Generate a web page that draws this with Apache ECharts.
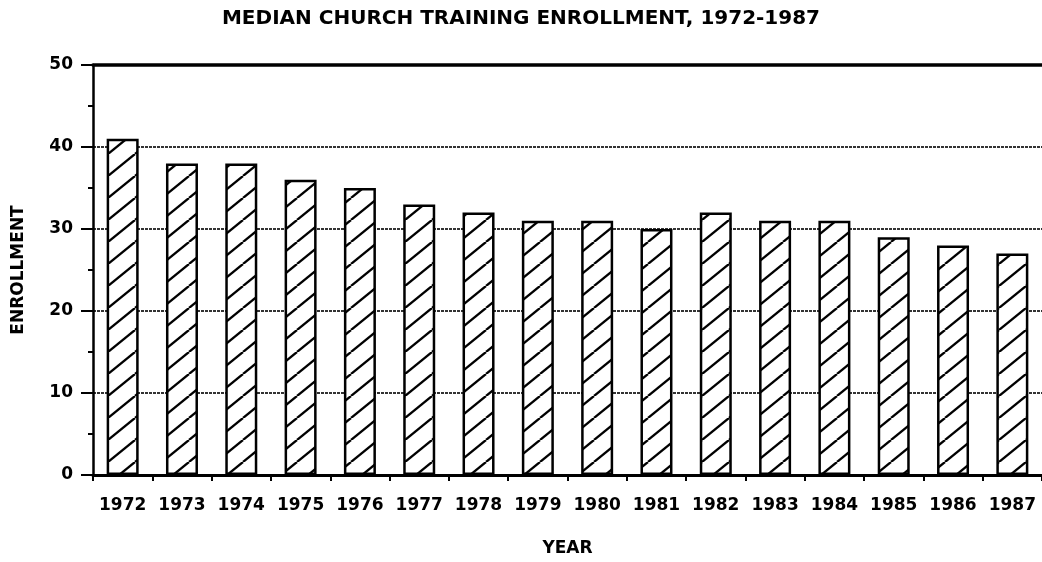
<!DOCTYPE html>
<html>
<head>
<meta charset="utf-8">
<script src="https://cdn.jsdelivr.net/npm/echarts@6/dist/echarts.min.js"></script>
<style>
  html, body { margin: 0; padding: 0; background: #fff; }
  #chart { width: 1042px; height: 562px; }
</style>
</head>
<body>
<div id="chart"></div>
<script>
// data
const years = ["1972", "1973", "1974", "1975", "1976", "1977", "1978", "1979",
  "1980", "1981", "1982", "1983", "1984", "1985", "1986", "1987"];
const enrollment = [41, 38, 38, 36, 35, 33, 32, 31, 31, 30, 32, 31, 31, 29, 28, 27];
const yTicks = [0, 10, 20, 30, 40, 50];

const FONT = "DejaVu Sans, sans-serif";

// hatch tile: "/" lines on white
function hatchTile() {
  const w = 27, h = 22;
  const c = document.createElement("canvas");
  c.width = w;
  c.height = h;
  const ctx = c.getContext("2d");
  ctx.fillStyle = "#fff";
  ctx.fillRect(0, 0, w, h);
  ctx.strokeStyle = "#000";
  ctx.lineWidth = 2.3;
  for (let k = -1; k <= 1; k++) {
    ctx.beginPath();
    ctx.moveTo(k * w, h);
    ctx.lineTo(k * w + w, 0);
    ctx.stroke();
  }
  return c;
}

const chartDom = document.getElementById("chart");
const myChart = echarts.init(chartDom, null, { renderer: "canvas" });

const option = {
  animation: false,
  backgroundColor: "#fff",
  title: {
    text: "MEDIAN CHURCH TRAINING ENROLLMENT, 1972-1987",
    left: "center",
    top: 4,
    textStyle: { fontFamily: FONT, fontWeight: "bold", fontSize: 20, color: "#000" },
  },
  grid: { left: 93, right: -3, top: 65, bottom: 85 },
  xAxis: [
    {
      type: "category",
      data: years,
      name: "YEAR",
      nameLocation: "middle",
      nameGap: 65,
      nameTextStyle: { fontFamily: FONT, fontWeight: "bold", fontSize: 17, color: "#000" },
      axisLine: { lineStyle: { color: "#000", width: 3 } },
      axisTick: { show: true, length: 6, lineStyle: { color: "#000", width: 2 } },
      axisLabel: {
        interval: 0,
        margin: 22,
        fontFamily: FONT,
        fontWeight: "bold",
        fontSize: 17,
        color: "#000",
      },
    },
    {
      // heavy frame line at 50
      type: "category",
      position: "top",
      data: years,
      axisLine: { lineStyle: { color: "#000", width: 3.5 } },
      axisTick: { show: false },
      axisLabel: { show: false },
    },
  ],
  yAxis: {
    type: "value",
    min: yTicks[0],
    max: yTicks[yTicks.length - 1],
    interval: 10,
    name: "ENROLLMENT",
    nameLocation: "middle",
    nameGap: 66,
    nameTextStyle: { fontFamily: FONT, fontWeight: "bold", fontSize: 17, color: "#000" },
    axisLine: { show: true, lineStyle: { color: "#000", width: 2.5 } },
    axisTick: { show: true, length: 12, lineStyle: { color: "#000", width: 2 } },
    minorTick: { show: true, splitNumber: 2, length: 5, lineStyle: { color: "#000", width: 2 } },
    axisLabel: {
      margin: 20,
      fontFamily: FONT,
      fontWeight: "bold",
      fontSize: 17,
      color: "#000",
    },
    splitLine: {
      show: true,
      lineStyle: { color: "#333", width: 2, type: [3, 1] },
    },
  },
  series: [
    {
      type: "bar",
      xAxisIndex: 0,
      data: enrollment,
      barWidth: 32,
      itemStyle: {
        color: { image: hatchTile(), repeat: "repeat" },
        borderColor: "#000",
        borderWidth: 2.5,
      },
    },
  ],
};

myChart.setOption(option);
</script>
</body>
</html>
